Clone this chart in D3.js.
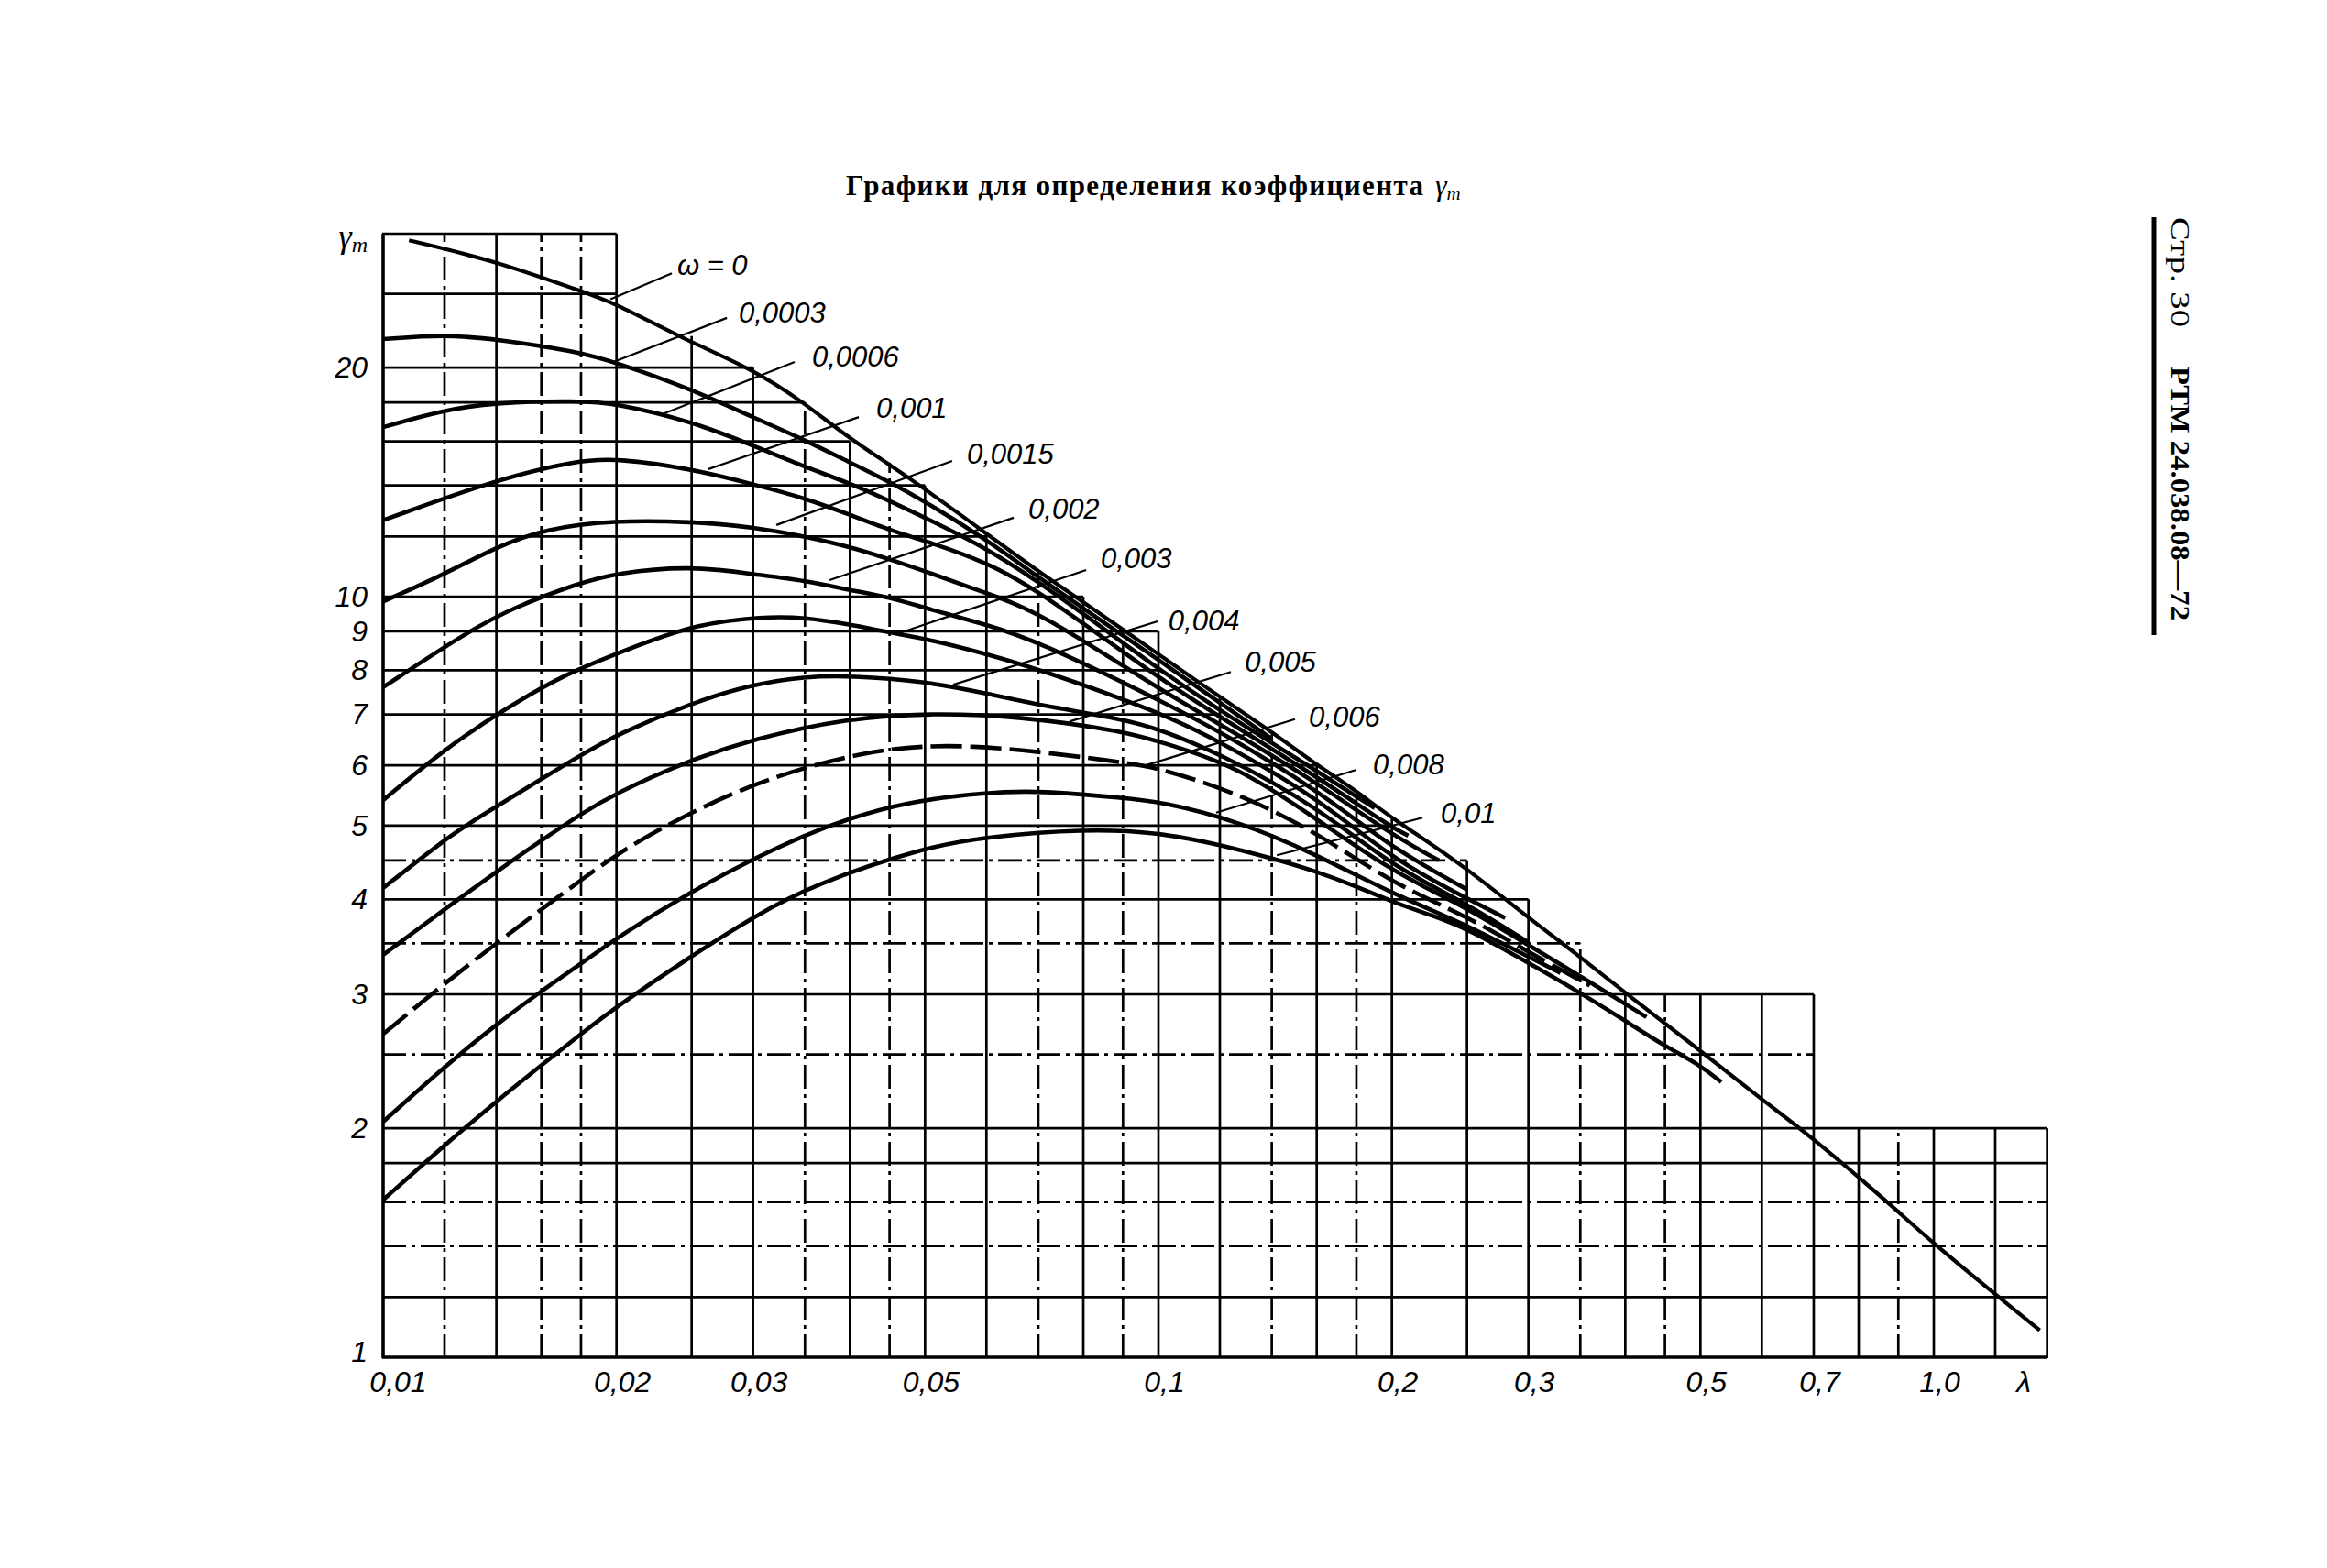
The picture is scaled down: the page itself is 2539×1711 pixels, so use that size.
<!DOCTYPE html>
<html><head><meta charset="utf-8">
<script src="https://cdn.jsdelivr.net/npm/d3@7"></script>
<style>html,body{margin:0;padding:0;background:#fff}svg{display:block}</style>
</head><body>
<svg id="chart" width="2539" height="1711"></svg>
<script>
// ---------------- DATA ----------------
// grid of the nomogram (log-log), values in data units
const lambdaGrid    = [0.01,0.012,0.014,0.016,0.018,0.02,0.025,0.03,0.035,0.04,0.045,0.05,0.06,0.07,0.08,0.09,0.1,0.12,0.14,0.16,0.18,0.2,0.25,0.3,0.35,0.4,0.45,0.5,0.6,0.7,0.8,0.9,1.0,1.2,1.4];
const lambdaGridTop = [30,30,30,30,30,30,22,20,18,16,15,14,12.1,10.8,10,9.05,9,7.35,6.6,6,5.55,5.1,4.5,4,3.5,3,3,3,3,3,2,2,2,2,2];
const gammaGrid      = [1,1.2,1.4,1.6,1.8,2,2.5,3,3.5,4,4.5,5,6,7,8,9,10,12,14,16,18,20,25,30];
const gammaGridRight = [1.4,1.4,1.4,1.4,1.4,1.4,0.7,0.7,0.35,0.3,0.25,0.2,0.16,0.12,0.1,0.1,0.08,0.06,0.05,0.04,0.035,0.03,0.02,0.02];

const xTickValues = [0.01,0.02,0.03,0.05,0.1,0.2,0.3,0.5,0.7,1.0];
const xTickText   = ['0,01','0,02','0,03','0,05','0,1','0,2','0,3','0,5','0,7','1,0'];
const yTickValues = [1,2,3,4,5,6,7,8,9,10,20];
const yTickText   = ['1','2','3','4','5','6','7','8','9','10','20'];

// curves gamma_m(lambda) for each omega
const omega_0 = [[0.0108,29.4],[0.014,27.6],[0.0178,25.3],[0.0198,24.4],[0.0244,21.8],[0.03,19.9],[0.035,17.96],[0.04,16.1],[0.047,14.5],[0.06,12.1],[0.0727,10.5],[0.09,9.06],[0.112,7.74],[0.141,6.61],[0.159,6.03],[0.178,5.6],[0.2,5.11],[0.247,4.44],[0.3,3.78],[0.345,3.40],[0.407,2.97],[0.5,2.53],[0.6,2.18],[0.7,1.94],[0.89,1.57],[1.0,1.41],[1.2,1.21],[1.37,1.085]];
const omega_0003 = [[0.01,21.8],[0.012,22.1],[0.014,21.8],[0.0178,21.0],[0.02,20.3],[0.0248,18.8],[0.03,17.2],[0.035,16.07],[0.04,15.0],[0.047,13.86],[0.06,11.9],[0.07,10.6],[0.08,9.65],[0.1,8.26],[0.12,7.25],[0.14,6.5]];
const omega_0006 = [[0.01,16.7],[0.012,17.6],[0.014,18.0],[0.0178,18.1],[0.02,17.95],[0.025,17.0],[0.03,15.8],[0.035,14.8],[0.04,14.1],[0.047,13.1],[0.06,11.6],[0.07,10.45],[0.08,9.5],[0.1,8.03],[0.12,7.08],[0.16,5.9],[0.19,5.27]];
const omega_001 = [[0.01,12.6],[0.014,14.26],[0.0178,15.1],[0.02,15.2],[0.025,14.72],[0.03,14.05],[0.035,13.48],[0.04,12.81],[0.045,12.23],[0.05,11.84],[0.06,11.1],[0.07,10.2],[0.1,7.81],[0.12,6.95],[0.16,5.8],[0.2,4.97],[0.21,4.85]];
const omega_0015 = [[0.01,9.85],[0.012,10.7],[0.014,11.63],[0.0162,12.28],[0.0198,12.6],[0.025,12.55],[0.03,12.35],[0.035,12.0],[0.04,11.63],[0.045,11.2],[0.05,10.8],[0.06,10.1],[0.07,9.57],[0.1,7.56],[0.12,6.8],[0.16,5.7],[0.2,4.86],[0.23,4.5]];
const omega_002 = [[0.01,7.6],[0.0128,8.97],[0.0147,9.67],[0.0178,10.4],[0.02,10.75],[0.025,10.98],[0.03,10.7],[0.035,10.5],[0.04,10.2],[0.045,9.98],[0.05,9.66],[0.06,9.19],[0.07,8.73],[0.1,7.32],[0.12,6.65],[0.16,5.58],[0.2,4.67],[0.25,4.12]];
const omega_003 = [[0.01,5.4],[0.012,6.3],[0.0143,7.1],[0.0171,7.89],[0.02,8.41],[0.025,9.19],[0.031,9.42],[0.035,9.39],[0.04,9.19],[0.045,8.97],[0.05,8.81],[0.06,8.41],[0.07,8.03],[0.1,7.06],[0.12,6.45],[0.16,5.45],[0.2,4.52],[0.25,4.01],[0.28,3.78]];
const omega_004 = [[0.01,4.14],[0.012,4.79],[0.013,5.06],[0.0183,6.26],[0.02,6.58],[0.025,7.25],[0.03,7.67],[0.035,7.85],[0.04,7.87],[0.05,7.74],[0.06,7.46],[0.07,7.2],[0.09,6.9],[0.1,6.7],[0.12,6.22],[0.16,5.3],[0.2,4.42],[0.25,3.95],[0.3,3.51]];
const omega_005 = [[0.01,3.38],[0.012,3.88],[0.014,4.35],[0.016,4.78],[0.018,5.18],[0.02,5.52],[0.0244,6.05],[0.03,6.5],[0.0397,6.92],[0.0505,7.03],[0.0667,6.96],[0.0909,6.64],[0.1,6.45],[0.126,6.0],[0.16,5.1],[0.2,4.35],[0.25,3.9],[0.3,3.48],[0.35,3.17],[0.426,2.8]];
const omega_006 = [[0.01,2.66],[0.012,3.1],[0.014,3.5],[0.016,3.88],[0.018,4.24],[0.02,4.58],[0.0231,5.0],[0.03,5.7],[0.0417,6.28],[0.056,6.44],[0.0909,6.05],[0.1,5.95],[0.126,5.53],[0.16,4.9],[0.2,4.2],[0.25,3.8],[0.3,3.41],[0.36,3.08]];
const omega_008 = [[0.01,2.04],[0.012,2.41],[0.014,2.74],[0.016,3.03],[0.018,3.29],[0.02,3.56],[0.025,4.1],[0.03,4.52],[0.035,4.86],[0.0397,5.1],[0.0472,5.37],[0.06,5.53],[0.0704,5.56],[0.0909,5.43],[0.1,5.38],[0.126,5.08],[0.16,4.58],[0.2,4.07],[0.25,3.7],[0.3,3.36],[0.33,3.2]];
const omega_01 = [[0.01,1.61],[0.012,1.9],[0.014,2.17],[0.016,2.42],[0.018,2.66],[0.02,2.89],[0.025,3.37],[0.03,3.79],[0.0357,4.18],[0.0506,4.70],[0.06,4.83],[0.08,4.95],[0.1,4.90],[0.12,4.72],[0.141,4.52],[0.159,4.36],[0.18,4.16],[0.2,3.97],[0.227,3.80],[0.25,3.66],[0.3,3.30],[0.345,3.04],[0.4,2.77],[0.448,2.57],[0.5,2.42],[0.532,2.30]];

const curveLabels = ['ω = 0','0,0003','0,0006','0,001','0,0015','0,002','0,003','0,004','0,005','0,006','0,008','0,01'];
const labelAnchor = [[0.02395,26.5],[0.02875,22.9],[0.03574,20.07],[0.04325,17.18],[0.05662,14.95],[0.06795,12.66],[0.08423,10.9],[0.103,9.03],[0.1292,7.96],[0.1563,6.74],[0.1891,5.84],[0.2313,5.04]];
const leaderFrom  = [[0.02357,26.6],[0.02776,23.25],[0.03394,20.34],[0.04107,17.22],[0.0542,15.08],[0.06506,12.7],[0.08066,10.84],[0.09973,9.28],[0.124,7.96],[0.15,6.9],[0.18,5.92],[0.219,5.12]];
const leaderTo    = [[0.01965,24.6],[0.01981,20.34],[0.02275,17.32],[0.02628,14.71],[0.03215,12.42],[0.03765,10.51],[0.04654,8.97],[0.05436,7.66],[0.0768,6.85],[0.0963,6.0],[0.1187,5.2],[0.1421,4.57]];

const titleText = 'Графики для определения коэффициента';
const sideText1 = 'Стр. 30';
const sideText2 = 'РТМ 24.038.08—72';

// ---------------- DRAWING ----------------
const series = [omega_0, omega_0003, omega_0006, omega_001, omega_0015, omega_002, omega_003, omega_004, omega_005, omega_006, omega_008, omega_01];

const svg = d3.select('#chart');
svg.append('rect').attr('width',2539).attr('height',1711).attr('fill','#fff');

const x = d3.scaleLog().domain([0.01, 1]).range([418, 2110]);
const y = d3.scaleLog().domain([1, 10]).range([1481, 651]);

const dashedX = new Set([0.012,0.016,0.018,0.035,0.045,0.07,0.09,0.14,0.18,0.35,0.45,0.9]);
const dashedY = new Set([1.4,1.6,2.5,3.5,4.5]);

const grid = svg.append('g').attr('stroke','#000').attr('fill','none');
grid.selectAll('line.v').data(lambdaGrid).join('line').attr('class','v')
  .attr('x1', d => x(d)).attr('x2', d => x(d))
  .attr('y1', y(1) + 1).attr('y2', (d,i) => y(lambdaGridTop[i]))
  .attr('stroke-width', d => d === 0.01 ? 3.6 : 2.7)
  .attr('stroke-dasharray', d => dashedX.has(d) ? '26,6,4,6' : null);
grid.selectAll('line.h').data(gammaGrid).join('line').attr('class','h')
  .attr('y1', d => y(d)).attr('y2', d => y(d))
  .attr('x1', x(0.01) - 1).attr('x2', (d,i) => x(gammaGridRight[i]))
  .attr('stroke-width', d => d === 1 ? 3.4 : 2.7)
  .attr('stroke-dasharray', d => dashedY.has(d) ? '26,6,4,6' : null);

// curves
const line = d3.line().x(d => x(d[0])).y(d => y(d[1])).curve(d3.curveBasis);
svg.append('g').selectAll('path').data(series).join('path')
  .attr('d', line)
  .attr('fill','none').attr('stroke','#000')
  .attr('stroke-width', (d,i) => i === 0 ? 4.2 : 4.6)
  .attr('stroke-linejoin','round')
  .attr('stroke-dasharray', (d,i) => i === 9 ? '34,9' : null);

// leaders
svg.append('g').selectAll('line').data(leaderFrom).join('line')
  .attr('x1', d => x(d[0])).attr('y1', d => y(d[1]))
  .attr('x2', (d,i) => x(leaderTo[i][0])).attr('y2', (d,i) => y(leaderTo[i][1]))
  .attr('stroke','#000').attr('stroke-width',2.2);

// curve labels
svg.append('g').selectAll('text').data(curveLabels).join('text')
  .attr('x', (d,i) => x(labelAnchor[i][0])).attr('y', (d,i) => y(labelAnchor[i][1]))
  .attr('font-family','Liberation Sans, Arial, sans-serif').attr('font-style','italic')
  .attr('font-size', 31).attr('fill','#000')
  .text(d => d);

// axes labels via d3 axes
const fontAx = 'Liberation Sans, Arial, sans-serif';
const xAxis = d3.axisBottom(x).tickValues(xTickValues).tickFormat((d,i) => xTickText[i]).tickSize(0).tickPadding(15);
const gx = svg.append('g').attr('transform', `translate(0,${y(1)})`).call(xAxis);
gx.select('.domain').remove();
gx.selectAll('text').attr('font-size',32).attr('font-style','italic').attr('font-family',fontAx).attr('fill','#000')
  .attr('dx', (d,i) => i === 0 ? 16 : 6);
gx.append('text').attr('x', 2208).attr('y', 15).attr('dy','0.71em').attr('text-anchor','middle')
  .attr('font-size',32).attr('font-style','italic').attr('font-family',fontAx).attr('fill','#000').text('λ');

const yAxis = d3.axisLeft(y).tickValues(yTickValues).tickFormat((d,i) => yTickText[i]).tickSize(0).tickPadding(17);
const gy = svg.append('g').attr('transform', `translate(${x(0.01)},0)`).call(yAxis);
gy.select('.domain').remove();
gy.selectAll('text').attr('font-size',32).attr('font-style','italic').attr('font-family',fontAx).attr('fill','#000')
  .attr('dy', (d,i) => i === 0 ? '0.15em' : '0.32em');

const yLab = svg.append('text').attr('x', 401).attr('y', 270).attr('text-anchor','end')
  .attr('font-family','Liberation Serif, serif').attr('font-style','italic').attr('font-size',36).attr('fill','#000');
yLab.append('tspan').text('γ');
yLab.append('tspan').attr('font-size',24).attr('dy',5).text('m');

// title
svg.append('text').attr('x', 923).attr('y', 213)
  .attr('font-family','Liberation Serif, serif').attr('font-weight','bold').attr('font-size',31)
  .attr('textLength', 630).attr('lengthAdjust','spacing').attr('fill','#000').text(titleText);
const tg = svg.append('text').attr('x', 1566).attr('y', 213)
  .attr('font-family','Liberation Serif, serif').attr('font-style','italic').attr('font-size',32).attr('fill','#000');
tg.append('tspan').text('γ');
tg.append('tspan').attr('font-size',21).attr('dy',5).text('m');

// side stamp
svg.append('line').attr('x1',2350).attr('x2',2350).attr('y1',237).attr('y2',693).attr('stroke','#000').attr('stroke-width',5);
svg.append('text').attr('transform','translate(2369,237) rotate(90)')
  .attr('font-family','Liberation Serif, serif').attr('font-size',29).attr('fill','#000')
  .attr('textLength',120).attr('lengthAdjust','spacingAndGlyphs').text(sideText1);
svg.append('text').attr('transform','translate(2369,400) rotate(90)')
  .attr('font-family','Liberation Serif, serif').attr('font-weight','bold').attr('font-size',29).attr('fill','#000')
  .attr('textLength',277).attr('lengthAdjust','spacingAndGlyphs').text(sideText2);
</script>
</body></html>
